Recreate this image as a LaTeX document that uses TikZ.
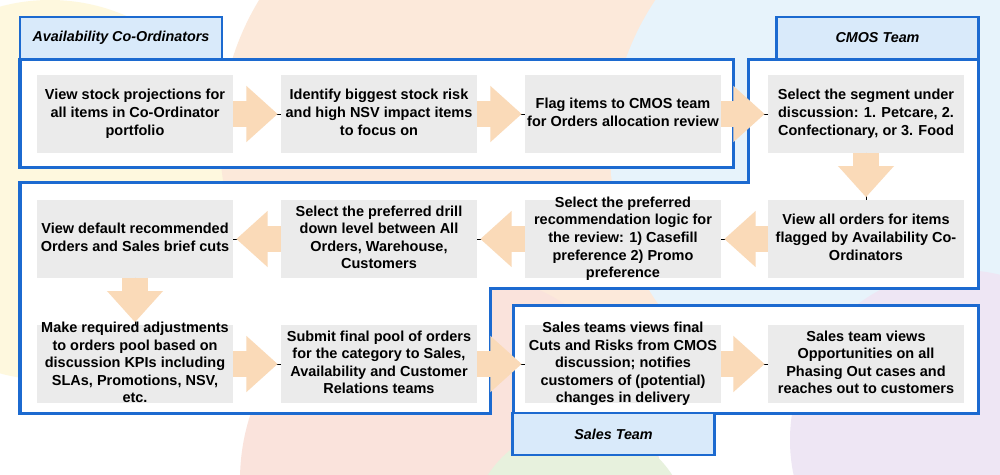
\documentclass[tikz,border=0pt]{standalone}
\usepackage{fontspec}
\setmainfont{Liberation Sans}
\usepackage{xcolor}
\usepackage{tikz}
\usetikzlibrary{arrows.meta}

\definecolor{laneblue}{RGB}{28,106,208}
\definecolor{tagblue}{RGB}{217,234,250}
\definecolor{stepgray}{RGB}{235,235,235}
\definecolor{flowpeach}{RGB}{250,218,184}
\definecolor{bgpeach}{RGB}{252,233,218}
\definecolor{bgblue}{RGB}{231,243,251}
\definecolor{bgyellow}{RGB}{254,248,222}
\definecolor{bgpink}{RGB}{250,227,220}
\definecolor{bggreen}{RGB}{231,241,221}
\definecolor{bgpurple}{RGB}{238,230,244}

% centred text block that does not stretch the grey step box
\newcommand{\steptext}[1]{\smash{\raisebox{-2.5pt}{\begin{tabular}{@{}c@{}}#1\end{tabular}}}}

\begin{document}
\begin{tikzpicture}[x=0.025cm, y=-0.025cm,
    lane/.style={draw=laneblue, line width=0.075cm, fill=white},
    tagbox/.style={draw=laneblue, line width=0.07cm, fill=tagblue, minimum width=5.05cm, minimum height=1.05cm, inner sep=0pt, font=\fontsize{10.2}{12}\selectfont\bfseries\itshape},
    stepbox/.style={fill=stepgray, minimum width=4.9cm, minimum height=1.925cm, inner sep=0pt, font=\fontsize{10.3}{12.45}\selectfont\bfseries},
    flow/.style={draw=flowpeach, line width=0.65cm, -{Triangle[width=1.35cm, length=0.78cm]}, shorten >=0.075cm, preaction={draw, -, shorten >=0pt}}]
    \useasboundingbox (0,0) rectangle (1000,474);

    % soft background circles
    \fill[white] (0,0) rectangle (1000,474);
    \fill[bgyellow] (50,190) circle (190);
    \fill[bgpeach] (490,140) circle (270);
    \fill[bgblue] (880,150) circle (270);
    \fill[bgpink] (450,480) circle (210);
    \fill[bggreen] (580,535) circle (110);
    \fill[bgpurple] (960,440) circle (170);

    % swim lanes
    \draw[lane] (20,59) rectangle (733,167);
    \draw[lane] (748,59) -- (978,59) -- (978,288) -- (490,288) -- (490,413) -- (20,413) -- (20,182) -- (748,182) -- cycle;
    \draw[lane] (513,305) rectangle (978,413);

    % lane titles
    \node[tagbox] (tagavail) at (121,38) {Availability Co-Ordinators};
    \node[tagbox] (tagcmos) at (877.5,38) {CMOS Team};
    \node[tagbox] (tagsales) at (613.5,434) {Sales Team};

    % steps, first row
    \node[stepbox] (s1) at (135,114) {\steptext{View stock projections for\\all items in Co-Ordinator\\portfolio}};
    \node[stepbox] (s2) at (379,114) {\steptext{Identify biggest stock risk\\and high NSV impact items\\to focus on}};
    \node[stepbox] (s3) at (623,114) {\steptext{Flag items to CMOS team\\for Orders allocation review}};
    \node[stepbox] (s4) at (866,114) {\steptext{Select the segment under\\discussion: 1. Petcare, 2.\\Confectionary, or 3. Food}};

    % steps, second row
    \node[stepbox] (s5) at (866,239) {\steptext{View all orders for items\\flagged by Availability Co-\\Ordinators}};
    \node[stepbox] (s6) at (623,239) {\steptext{Select the preferred\\recommendation logic for\\the review: 1) Casefill\\preference 2) Promo\\preference}};
    \node[stepbox] (s7) at (379,239) {\steptext{Select the preferred drill\\down level between All\\Orders, Warehouse,\\Customers}};
    \node[stepbox] (s8) at (135,239) {\steptext{View default recommended\\Orders and Sales brief cuts}};

    % steps, third row
    \node[stepbox] (s9) at (135,364) {\steptext{Make required adjustments\\to orders pool based on\\discussion KPIs including\\SLAs, Promotions, NSV,\\etc.}};
    \node[stepbox] (s10) at (379,364) {\steptext{Submit final pool of orders\\for the category to Sales,\\Availability and Customer\\Relations teams}};
    \node[stepbox] (s11) at (623,364) {\steptext{Sales teams views final\\Cuts and Risks from CMOS\\discussion; notifies\\customers of (potential)\\changes in delivery}};
    \node[stepbox] (s12) at (866,364) {\steptext{Sales team views\\Opportunities on all\\Phasing Out cases and\\reaches out to customers}};

    % block arrows between steps
    \draw[flow] (s1) -- (s2);
    \draw[flow] (s2) -- (s3);
    \draw[flow] (s3) -- (s4);
    \draw[flow] (s4) -- (s5);
    \draw[flow] (s5) -- (s6);
    \draw[flow] (s6) -- (s7);
    \draw[flow] (s7) -- (s8);
    \draw[flow] (s8) -- (s9);
    \draw[flow] (s9) -- (s10);
    \draw[flow] (s10) -- (s11);
    \draw[flow] (s11) -- (s12);
\end{tikzpicture}
\end{document}
